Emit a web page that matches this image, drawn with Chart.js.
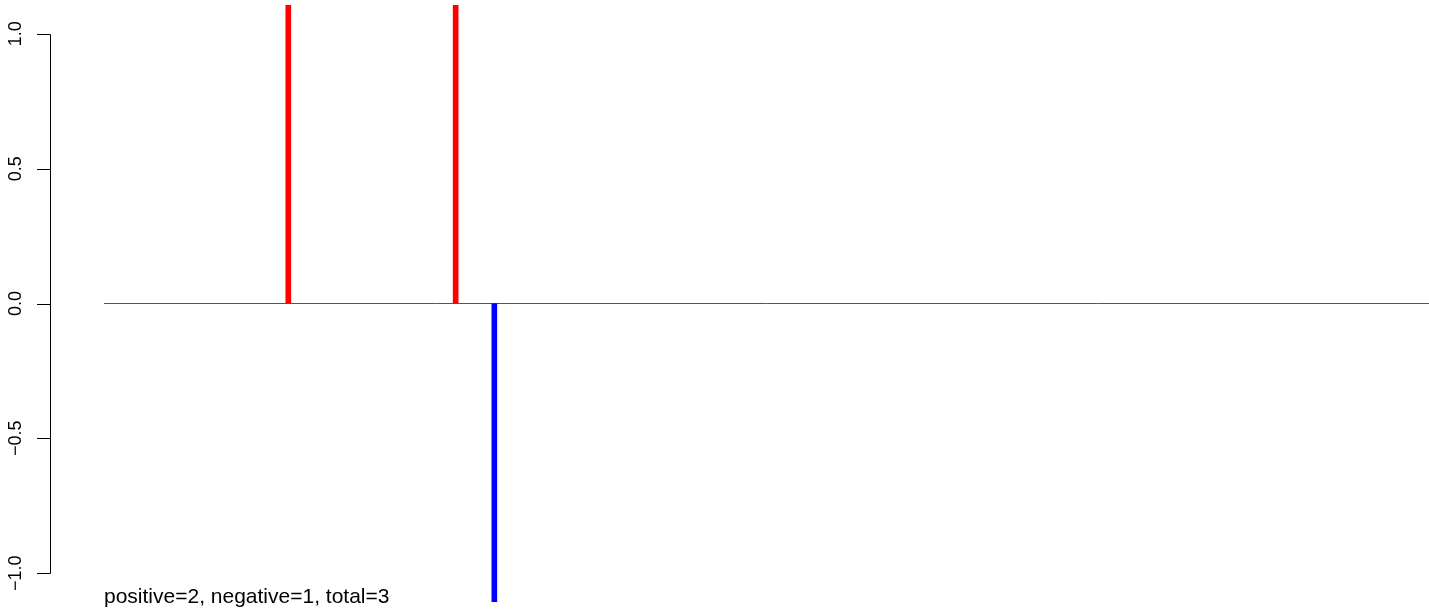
<!DOCTYPE html>
<html>
<head>
<meta charset="utf-8">
<script src="https://cdn.jsdelivr.net/npm/chart.js@4/dist/chart.umd.min.js"></script>
<style>
  html, body { margin: 0; padding: 0; background: #ffffff; }
  canvas { display: block; }
</style>
</head>
<body>
<canvas id="chart" width="1429" height="609"></canvas>
<script>
// spike positions (x units: 0..100 across the plot region) and heights
const spikeX = [13.91, 26.54, 29.46];
const spikeY = [1.11, 1.11, -1.11];
const spikeColors = ["#FF0000", "#FF0000", "#0000FF"];

// y axis ticks and labels
const yTicks = [-1, -0.5, 0, 0.5, 1];
const yTickLabels = ["\u22121.0", "\u22120.5", "0.0", "0.5", "1.0"];

// zero reference line ends
const baseX = [0, 100];
const baseY = [0, 0];

const note = "positive=2, negative=1, total=3";
const FAMILY = "'Liberation Sans', Arial, Helvetica, sans-serif";

// draws R-style y axis (line spanning tick range, ticks, rotated labels) and the note
const rAxisPlugin = {
  id: "rAxis",
  afterDraw(chart) {
    const ctx = chart.ctx;
    const y = chart.scales.y;
    const x = chart.scales.x;
    const axisX = y.right;
    ctx.save();
    ctx.strokeStyle = "#000";
    ctx.lineWidth = 1;
    ctx.beginPath();
    ctx.moveTo(axisX + 0.5, Math.round(y.getPixelForValue(yTicks[yTicks.length - 1])) + 0.5);
    ctx.lineTo(axisX + 0.5, Math.round(y.getPixelForValue(yTicks[0])) + 0.5);
    yTicks.forEach((t) => {
      const py = Math.round(y.getPixelForValue(t)) + 0.5;
      ctx.moveTo(axisX + 0.5, py);
      ctx.lineTo(axisX - 13, py);
    });
    ctx.stroke();

    ctx.fillStyle = "#000";
    ctx.font = "18px " + FAMILY;
    ctx.textAlign = "center";
    ctx.textBaseline = "alphabetic";
    yTicks.forEach((t, i) => {
      ctx.save();
      ctx.translate(21, y.getPixelForValue(t));
      ctx.rotate(-Math.PI / 2);
      ctx.fillText(yTickLabels[i], 0, 0);
      ctx.restore();
    });

    ctx.font = "21px " + FAMILY;
    ctx.textAlign = "left";
    ctx.fillText(note, x.getPixelForValue(0), 603);
    ctx.restore();
  },
};

new Chart(document.getElementById("chart"), {
  type: "bar",
  data: {
    datasets: [
      {
        type: "line",
        data: baseX.map((v, i) => ({ x: v, y: baseY[i] })),
        borderColor: "#555555",
        borderWidth: 1,
        pointRadius: 0,
        order: 2,
      },
      {
        type: "bar",
        data: spikeX.map((v, i) => ({ x: v, y: spikeY[i] })),
        backgroundColor: spikeColors,
        borderWidth: 0,
        barThickness: 5,
        order: 1,
      },
    ],
  },
  options: {
    responsive: false,
    animation: false,
    devicePixelRatio: 1,
    layout: { padding: { top: 5, bottom: 7, left: 0, right: 0 } },
    plugins: { legend: { display: false }, tooltip: { enabled: false } },
    scales: {
      x: {
        type: "linear",
        min: -4.075,
        max: 100,
        offset: false,
        display: false,
      },
      y: {
        type: "linear",
        min: -1.107,
        max: 1.107,
        grid: { display: false },
        border: { display: false },
        ticks: { display: false },
        afterFit: (scale) => {
          scale.width = 50;
        },
      },
    },
  },
  plugins: [rAxisPlugin],
});
</script>
</body>
</html>
